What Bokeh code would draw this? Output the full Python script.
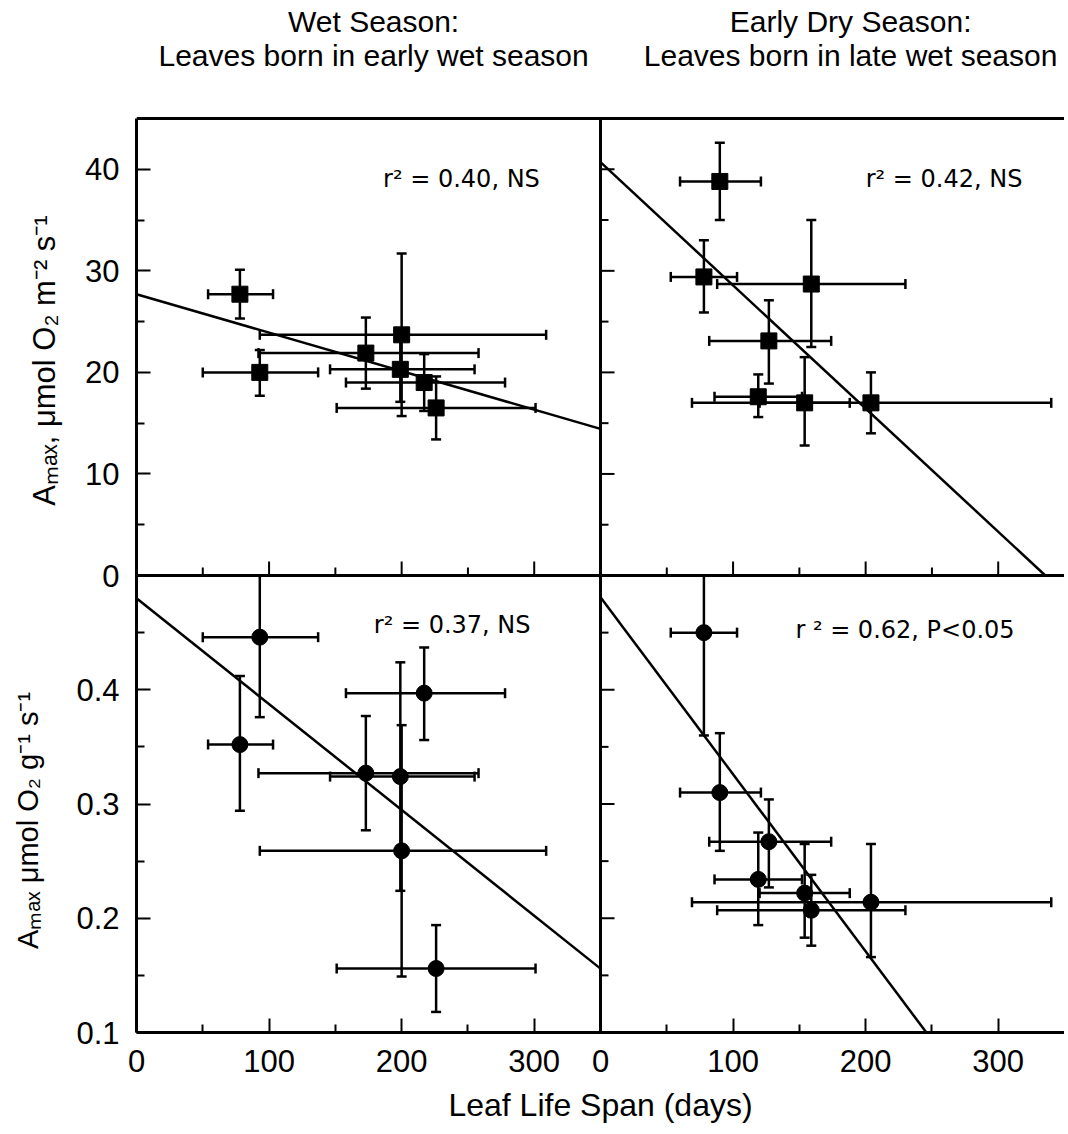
import numpy as np
from bokeh.plotting import figure
from bokeh.layouts import row
from bokeh.models import Range1d, LinearAxis, FixedTicker, Span
from bokeh.core.properties import value
from bokeh.embed import file_html
from bokeh.resources import INLINE

FONT = "Liberation Sans"
STAT_FONT = "DejaVu Sans"

# ---------------- data ----------------
season_titles = ["Wet Season:", "Early Dry Season:"]
season_subtitles = ["Leaves born in early wet season", "Leaves born in late wet season"]
x_label = "Leaf Life Span (days)"
area_label = "Aₘₐₓ, μmol O₂ m⁻² s⁻¹"
mass_label = "Aₘₐₓ μmol O₂ g⁻¹ s⁻¹"

span_range = (0, 350)
area_range = (0, 45)
mass_range = (0.1, 0.5)

span_ticks = [0, 100, 200, 300]
span_minor = [50, 150, 250]
span_tick_labels = ["0", "100", "200", "300"]
area_ticks = [0, 10, 20, 30, 40]
area_minor = [5, 15, 25, 35]
area_tick_labels = ["0", "10", "20", "30", "40"]
mass_ticks = [0.1, 0.2, 0.3, 0.4]
mass_minor = [0.15, 0.25, 0.35, 0.45]
mass_tick_labels = ["0.1", "0.2", "0.3", "0.4"]

# wet season (leaves born in early wet season)
wet_span = [78, 93, 173, 200, 199, 217, 226]
wet_span_lo = [54, 50, 92, 93, 146, 158, 151]
wet_span_hi = [103, 137, 258, 309, 255, 278, 301]
wet_area = [27.7, 20.0, 21.9, 23.7, 20.3, 19.0, 16.5]
wet_area_lo = [25.3, 17.7, 18.4, 15.7, 17.1, 16.2, 13.4]
wet_area_hi = [30.1, 22.2, 25.4, 31.7, 23.5, 21.8, 19.6]
wet_mass = [0.352, 0.446, 0.327, 0.259, 0.324, 0.397, 0.156]
wet_mass_lo = [0.294, 0.376, 0.277, 0.149, 0.224, 0.356, 0.118]
wet_mass_hi = [0.412, 0.516, 0.377, 0.369, 0.424, 0.437, 0.194]

# early dry season (leaves born in late wet season)
dry_span = [90, 78, 159, 127, 119, 154, 204]
dry_span_lo = [60, 53, 88, 82, 86, 120, 69]
dry_span_hi = [121, 103, 230, 174, 152, 188, 340]
dry_area = [38.8, 29.4, 28.7, 23.1, 17.6, 17.0, 17.0]
dry_area_lo = [35.0, 25.9, 22.5, 18.9, 15.6, 12.8, 14.0]
dry_area_hi = [42.6, 33.0, 35.0, 27.1, 19.8, 21.5, 20.0]
dry_mass = [0.310, 0.450, 0.207, 0.267, 0.234, 0.222, 0.214]
dry_mass_lo = [0.259, 0.360, 0.176, 0.227, 0.194, 0.183, 0.166]
dry_mass_hi = [0.362, 0.540, 0.238, 0.304, 0.275, 0.265, 0.265]

# regression lines: wet area, dry area, wet mass, dry mass
fit_intercept = [27.7, 40.7, 0.480, 0.481]
fit_slope = [-0.0379, -0.1213, -0.000926, -0.00155]
stat_text = ["r² = 0.40, NS", "r² = 0.42, NS", "r² = 0.37, NS", "r ² = 0.62, P<0.05"]

# ---------------- layout (pixels) ----------------
PANEL_W, PANEL_H = 464, 457
TOP_SPACE = 118          # title area above the panels (inside the frame)
LABEL_W = 66             # strip that carries the two y-axis titles
LEFT_BORDER = 70
BOTTOM_BORDER = 101
FRAME_H = 2 * PANEL_H + TOP_SPACE
TOTAL_H = FRAME_H + BOTTOM_BORDER
y_top = 2 + TOP_SPACE / PANEL_H

p = figure(x_range=Range1d(0, 2), y_range=Range1d(0, y_top),
           frame_width=2 * PANEL_W, frame_height=FRAME_H,
           min_border_left=LEFT_BORDER, min_border_right=0,
           min_border_top=0, min_border_bottom=BOTTOM_BORDER,
           x_axis_type=None, y_axis_type=None,
           output_backend="svg", toolbar_location=None,
           outline_line_color=None,
           background_fill_color="white", border_fill_color="white")


def xpos(v, col):
    return col + (v - span_range[0]) / (span_range[1] - span_range[0])


def ypos(v, r, yr):
    return r + (v - yr[0]) / (yr[1] - yr[0])


# left axis (two stacked panels)
y_major = [ypos(v, 1, area_range) for v in area_ticks] + [ypos(v, 0, mass_range) for v in mass_ticks]
y_minor = [ypos(v, 1, area_range) for v in area_minor] + [ypos(v, 0, mass_range) for v in mass_minor]
y_over = dict(zip(y_major, area_tick_labels + mass_tick_labels))
yaxis = LinearAxis(ticker=FixedTicker(ticks=y_major, minor_ticks=y_minor),
                   major_label_overrides=y_over, bounds=(0, 2),
                   axis_line_width=3, major_tick_in=14, major_tick_out=0,
                   minor_tick_in=8, minor_tick_out=0,
                   major_tick_line_width=2, minor_tick_line_width=2,
                   major_label_text_font=FONT, major_label_text_font_size="31px",
                   major_label_text_color="black", major_label_standoff=17)
p.add_layout(yaxis, "left")

# bottom axis (two side-by-side panels)
x_major = [xpos(v, c) for c in (0, 1) for v in span_ticks]
x_minor = [xpos(v, c) for c in (0, 1) for v in span_minor]
x_over = dict(zip(x_major, span_tick_labels * 2))
xaxis = LinearAxis(ticker=FixedTicker(ticks=x_major, minor_ticks=x_minor),
                   major_label_overrides=x_over,
                   axis_line_width=3, major_tick_in=14, major_tick_out=0,
                   minor_tick_in=8, minor_tick_out=0,
                   major_tick_line_width=2, minor_tick_line_width=2,
                   major_label_text_font=FONT, major_label_text_font_size="31px",
                   major_label_text_color="black", major_label_standoff=17,
                   axis_label=x_label, axis_label_text_font=FONT,
                   axis_label_text_font_size="32px", axis_label_text_font_style="normal",
                   axis_label_text_color="black", axis_label_standoff=12)
p.add_layout(xaxis, "below")

# frame edges between / above the panels
p.add_layout(Span(location=2, dimension="width", line_color="black", line_width=3))
p.add_layout(Span(location=1, dimension="width", line_color="black", line_width=3))
p.segment(x0=[1], y0=[0], x1=[1], y1=[2], line_color="black", line_width=3)

# column titles (two lines each)
title_x = [0.511, 1.539]
p.text(x=title_x, y=[2 + 97 / PANEL_H] * 2, text=season_titles,
       text_font=value(FONT), text_font_size=value("30px"),
       text_align="center", text_baseline="alphabetic", text_color="black")
p.text(x=title_x, y=[2 + 63 / PANEL_H] * 2, text=season_subtitles,
       text_font=value(FONT), text_font_size=value("30px"),
       text_align="center", text_baseline="alphabetic", text_color="black")


def draw_panel(col, r, xs, xlo, xhi, ys, ylo, yhi, yr, marker, k, stat_xy, yt_major, yt_minor):
    sub = p.subplot(x_source=Range1d(*span_range), y_source=Range1d(*yr),
                    x_target=Range1d(col, col + 1), y_target=Range1d(r, r + 1))
    xs = np.asarray(xs, float)
    xlo = np.asarray(xlo, float)
    xhi = np.asarray(xhi, float)
    ys = np.asarray(ys, float)
    ylo = np.asarray(ylo, float)
    yhi = np.asarray(yhi, float)
    ymin, ymax = yr
    # horizontal error bars
    sub.segment(x0=xlo, y0=ys, x1=xhi, y1=ys, line_color="black", line_width=2.5)
    sub.scatter(x=np.concatenate([xlo, xhi]), y=np.concatenate([ys, ys]), marker="dash",
                angle=np.pi / 2, size=10, line_color="black", line_width=2.5)
    # vertical error bars (clipped to the panel)
    sub.segment(x0=xs, y0=np.clip(ylo, ymin, ymax), x1=xs, y1=np.clip(yhi, ymin, ymax),
                line_color="black", line_width=2.5)
    okl = ylo >= ymin
    okh = yhi <= ymax
    sub.scatter(x=np.concatenate([xs[okl], xs[okh]]), y=np.concatenate([ylo[okl], yhi[okh]]),
                marker="dash", size=10, line_color="black", line_width=2.5)
    # regression line
    a, b = fit_intercept[k], fit_slope[k]
    x_end = span_range[1]
    if a + b * x_end < ymin:
        x_end = (ymin - a) / b
    lx = np.array([span_range[0], x_end])
    sub.line(x=lx, y=a + b * lx, line_color="black", line_width=2.5)
    # markers
    sub.scatter(x=xs, y=ys, marker=marker, size=16, fill_color="black", line_color="black")
    # statistic
    sub.text(x=[stat_xy[0]], y=[stat_xy[1]], text=[stat_text[k]],
             text_font=value(STAT_FONT), text_font_size=value("24px"),
             text_align="left", text_baseline="middle", text_color="black")
    # inward ticks on the internal seams
    if r == 1:
        sub.ray(x=span_ticks[1:], y=ymin, length=14, length_units="screen",
                angle=np.pi / 2, line_color="black", line_width=2)
        sub.ray(x=span_minor, y=ymin, length=8, length_units="screen",
                angle=np.pi / 2, line_color="black", line_width=2)
    if col == 1:
        sub.ray(x=span_range[0], y=[t for t in yt_major if t > ymin], length=14,
                length_units="screen", angle=0, line_color="black", line_width=2)
        sub.ray(x=span_range[0], y=yt_minor, length=8, length_units="screen",
                angle=0, line_color="black", line_width=2)


draw_panel(0, 1, wet_span, wet_span_lo, wet_span_hi, wet_area, wet_area_lo, wet_area_hi,
           area_range, "square", 0, (186, 39), area_ticks, area_minor)
draw_panel(1, 1, dry_span, dry_span_lo, dry_span_hi, dry_area, dry_area_lo, dry_area_hi,
           area_range, "square", 1, (200, 39), area_ticks, area_minor)
draw_panel(0, 0, wet_span, wet_span_lo, wet_span_hi, wet_mass, wet_mass_lo, wet_mass_hi,
           mass_range, "circle", 2, (179, 0.457), mass_ticks, mass_minor)
draw_panel(1, 0, dry_span, dry_span_lo, dry_span_hi, dry_mass, dry_mass_lo, dry_mass_hi,
           mass_range, "circle", 3, (147, 0.452), mass_ticks, mass_minor)

# strip on the left with the two rotated y-axis titles (pixel coordinates)
lab = figure(x_range=Range1d(0, LABEL_W), y_range=Range1d(0, TOTAL_H),
             frame_width=LABEL_W, frame_height=TOTAL_H,
             min_border=0, min_border_left=0, min_border_right=0,
             min_border_top=0, min_border_bottom=0,
             x_axis_type=None, y_axis_type=None,
             output_backend="svg", toolbar_location=None,
             outline_line_color=None,
             background_fill_color="white", border_fill_color="white")
lab.text(x=[44], y=[TOTAL_H - 360], text=[area_label], angle=np.pi / 2,
         text_font=value(FONT), text_font_size=value("31px"),
         text_align="center", text_baseline="middle", text_color="black")
lab.text(x=[27], y=[TOTAL_H - 820], text=[mass_label], angle=np.pi / 2,
         text_font=value(FONT), text_font_size=value("29px"),
         text_align="center", text_baseline="middle", text_color="black")

layout = row(lab, p)
open("out.html", "w").write(file_html(layout, INLINE))
